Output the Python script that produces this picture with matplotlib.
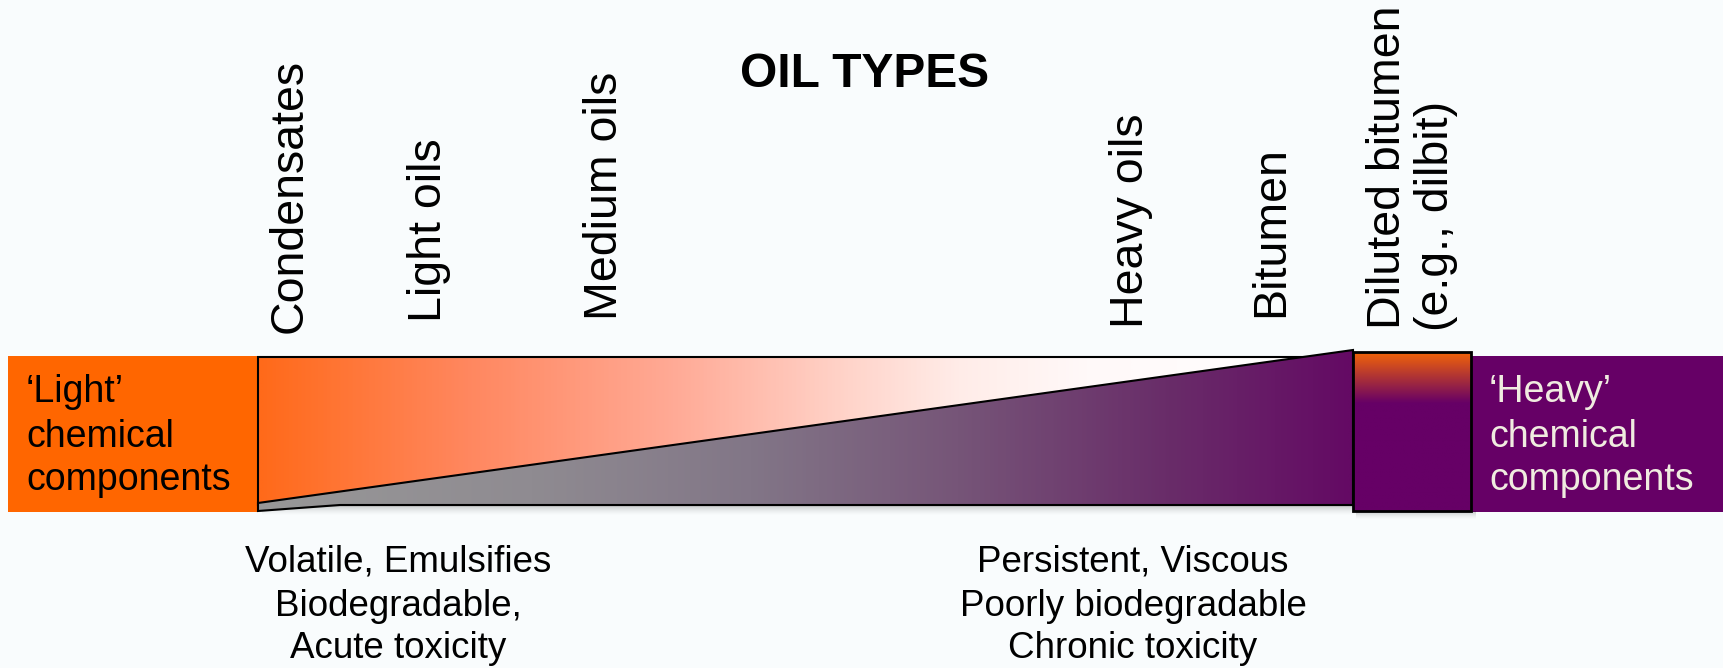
import numpy as np
import matplotlib
matplotlib.use('Agg')
import matplotlib.pyplot as plt
from matplotlib.patches import Polygon, Rectangle
from matplotlib.colors import to_rgb, LinearSegmentedColormap

plt.rcParams['font.family'] = ['Liberation Sans', 'DejaVu Sans']

W, H = 1723, 668
BG = '#f9fcfd'

# ---- content ----
title = 'OIL TYPES'
oil_types = ['Condensates', 'Light oils', 'Medium oils', 'Heavy oils',
             'Bitumen', 'Diluted bitumen', '(e.g., dilbit)']
oil_x = [302, 441, 617, 1143, 1283, 1400, 1448]      # baseline x of rotated labels
oil_start = [333, 322, 320, 328, 317, 329, 331]      # y where each label begins

light_lines = ['\u2018Light\u2019', 'chemical', 'components']
heavy_lines = ['\u2018Heavy\u2019', 'chemical', 'components']
comp_baselines = [402, 447, 490]

light_props = ['Volatile, Emulsifies', 'Biodegradable,', 'Acute toxicity']
heavy_props = ['Persistent, Viscous', 'Poorly biodegradable', 'Chronic toxicity']
prop_baselines = [572, 616, 658]
prop_centers = [398, 1133]

# ---- colours ----
ORANGE = '#ff6600'
PURPLE = '#660066'
CREAM = '#f0ece0'
rect_stops = [(0.0, (255, 106, 26)), (0.19, (255, 135, 95)), (0.38, (255, 170, 150)),
              (0.54, (255, 212, 202)), (0.64, (255, 236, 232)), (0.76, (255, 249, 249)),
              (1.0, (255, 255, 255))]
tri_stops = [(0.0, (152, 152, 152)), (0.25, (143, 139, 145)), (0.45, (130, 118, 135)),
             (0.64, (118, 85, 120)), (0.83, (105, 45, 105)), (1.0, (100, 10, 100))]

fig = plt.figure(figsize=(W / 100, H / 100), dpi=100, facecolor=BG)
ax = fig.add_axes([0, 0, 1, 1])
ax.set_facecolor(BG)
ax.axis('off')


def grad_row(stops, n=600):
    cmap = LinearSegmentedColormap.from_list(
        'g', [(p, tuple(np.array(c) / 255)) for p, c in stops])
    return cmap(np.linspace(0, 1, n))[None, :, :3]


# side boxes
ax.add_patch(Rectangle((8, 356), 250, 156, facecolor=ORANGE, edgecolor='none', zorder=1))
ax.add_patch(Rectangle((1471, 356), 252, 156, facecolor=PURPLE, edgecolor='none', zorder=1))


# shadows
def shadow(x0, x1, y0, depth, z):
    n = 30
    alpha = np.linspace(0.35, 0.0, n) ** 1.5
    arr = np.zeros((n, 1, 4))
    arr[:, 0, 3] = alpha
    ax.imshow(arr, extent=[x0, x1, y0 + depth, y0], origin='upper', aspect='auto',
              zorder=z, interpolation='bilinear')


shadow(262, 1360, 505, 11, 1.5)
shadow(1356, 1476, 511, 9, 1.5)

# upper rectangle with orange->white gradient
rect_pts = [(258, 357), (1353, 357), (1353, 505), (258, 505)]
im = ax.imshow(grad_row(rect_stops), extent=[258, 1353, 505, 357],
               aspect='auto', zorder=2, interpolation='bilinear')
im.set_clip_path(Polygon(rect_pts, closed=True, transform=ax.transData))
ax.add_patch(Polygon(rect_pts, closed=True, facecolor='none', edgecolor='black', lw=1.5,
                     zorder=3))

# lower wedge with grey->purple gradient
tri_pts = [(258, 503), (1353, 350), (1353, 505), (340, 505), (258, 511)]
im2 = ax.imshow(grad_row(tri_stops), extent=[258, 1353, 511, 350],
                aspect='auto', zorder=4, interpolation='bilinear')
im2.set_clip_path(Polygon(tri_pts, closed=True, transform=ax.transData))
ax.add_patch(Polygon(tri_pts, closed=True, facecolor='none', edgecolor='black', lw=1.5,
                     joinstyle='miter', zorder=5))

# dilbit box: orange top blending into purple
n = 200
a, b = np.array(to_rgb('#f26308')), np.array(to_rgb(PURPLE))
t = np.clip(np.linspace(0, 1, n) / 0.32, 0, 1)[:, None]
vg = (a * (1 - t) + b * t)[:, None, :]
ax.imshow(vg, extent=[1353, 1471, 511, 352], origin='upper', aspect='auto', zorder=6,
          interpolation='bilinear')
ax.add_patch(Rectangle((1353, 352), 118, 159, facecolor='none', edgecolor='black', lw=2.0,
                       zorder=7))

# title
ax.text(865, 87, title, fontsize=34.5, fontweight='bold', ha='center', va='baseline',
        color='black', zorder=10)

# oil type labels
for lab, x, y in zip(oil_types, oil_x, oil_start):
    ax.text(x, y, lab, rotation=90, rotation_mode='anchor', ha='left', va='baseline',
            fontsize=33.5, color='black', zorder=10)

# component labels
for line, yb in zip(light_lines, comp_baselines):
    ax.text(26, yb, line, fontsize=27, ha='left', va='baseline', color='black', zorder=10)
for line, yb in zip(heavy_lines, comp_baselines):
    ax.text(1489, yb, line, fontsize=27, ha='left', va='baseline', color=CREAM, zorder=10)

# property labels
for props, xc in zip([light_props, heavy_props], prop_centers):
    for line, yb in zip(props, prop_baselines):
        ax.text(xc, yb, line, fontsize=26.5, ha='center', va='baseline', color='black',
                zorder=10)

ax.set_xlim(0, W)
ax.set_ylim(H, 0)
fig.savefig('out.png', dpi=100, facecolor=BG)
